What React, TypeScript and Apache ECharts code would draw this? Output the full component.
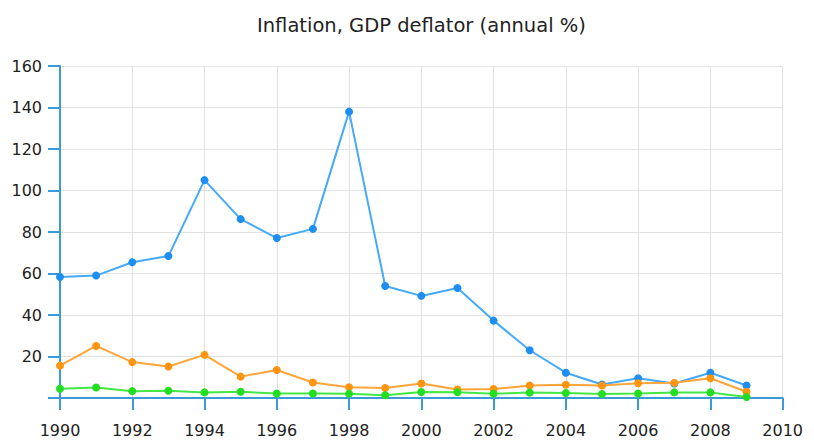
import React, { useEffect, useRef } from "react";
import * as echarts from "echarts";

const years = [1990,1991,1992,1993,1994,1995,1996,1997,1998,1999,2000,2001,2002,2003,2004,2005,2006,2007,2008,2009];
const blueValues = [58.3,59,65.4,68.4,105,86.2,77.1,81.5,138,54,49.2,53,37.3,23,12.2,6.5,9.5,7,12.2,6];
const orangeValues = [15.6,25.1,17.3,15.2,20.8,10.3,13.5,7.5,5.2,4.8,7,4.1,4.3,6,6.4,6,7.1,7.3,9.5,3];
const greenValues = [4.5,5.1,3.3,3.5,2.7,3,2.2,2.2,2.1,1.3,2.9,2.8,2.1,2.6,2.4,1.9,2.2,2.7,2.7,0.5];
const titleText = "Inflation, GDP deflator (annual %)";

const font = "'DejaVu Sans', Verdana, sans-serif";

function mkSeries(vals: number[], line: string, dot: string, z: number) {
  return {
    type: "line",
    data: years.map((y, i) => [y, vals[i]]),
    symbol: "circle",
    symbolSize: 8,
    z,
    lineStyle: { color: line, width: 2 },
    itemStyle: { color: dot },
  };
}

export default function App() {
  const ref = useRef<HTMLDivElement>(null);
  useEffect(() => {
    const chart = echarts.init(ref.current!, null, { renderer: "svg" });
    chart.setOption({
      animation: false,
      title: {
        text: titleText,
        left: 244,
        top: 2,
        textStyle: { fontFamily: font, fontSize: 19.5, fontWeight: "normal", color: "#222" },
      },
      grid: { left: 52, right: 13, top: 58, bottom: 35 },
      xAxis: {
        type: "value",
        min: 1990,
        max: 2010,
        interval: 2,
        axisLine: { show: true, lineStyle: { color: "#3b9bd8", width: 2 } },
        axisTick: { show: true, length: 12, lineStyle: { color: "#3b9bd8", width: 2 } },
        axisLabel: { margin: 24, fontFamily: font, fontSize: 16, color: "#222", formatter: (v: number) => String(v) },
        splitLine: { show: true, lineStyle: { color: "#e2e2e2", width: 1 } },
      },
      yAxis: {
        type: "value",
        min: 0,
        max: 160,
        interval: 20,
        axisLine: { show: true, lineStyle: { color: "#3b9bd8", width: 2 } },
        axisTick: { show: true, length: 12, inside: false, lineStyle: { color: "#3b9bd8", width: 2 } },
        axisLabel: { margin: 18, fontFamily: font, fontSize: 16, color: "#222", formatter: (v: number) => (v === 0 ? "" : String(v)) },
        splitLine: { show: true, lineStyle: { color: "#e2e2e2", width: 1 } },
      },
      series: [
        mkSeries(blueValues, "#45aaf8", "#1e8ff0", 3),
        mkSeries(orangeValues, "#ffa53a", "#ff9410", 4),
        mkSeries(greenValues, "#44e844", "#22dd22", 5),
      ],
    });
    return () => chart.dispose();
  }, []);
  return <div ref={ref} style={{ width: 798, height: 430 }} />;
}
